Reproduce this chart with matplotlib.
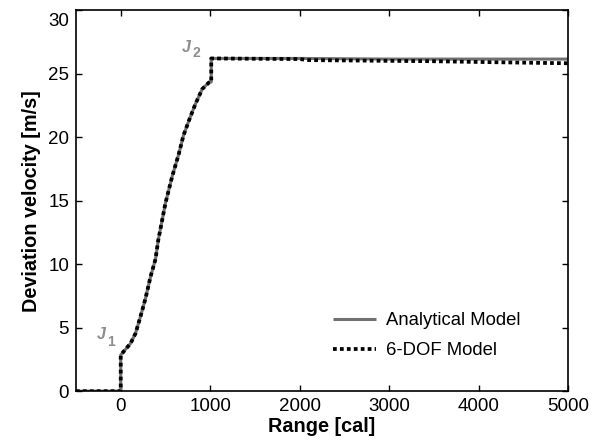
import matplotlib
matplotlib.use("Agg")
import matplotlib.pyplot as plt
import matplotlib.transforms as mtransforms

# ---- data ----
range_cal = [-500, 0, 0, 110, 165, 220, 277, 333, 389, 420, 500, 575, 650, 700,
             762, 837, 912, 985, 1012, 1012, 2000, 3000, 4000, 5000]
analytical = [0, 0, 2.85, 3.76, 4.54, 5.85, 7.3, 9.0, 10.4, 11.9, 14.8, 16.9, 18.7, 20.1,
              21.3, 22.65, 23.8, 24.3, 24.35, 26.2, 26.2, 26.15, 26.15, 26.15]
dof_range = [-500, 0, 0, 110, 165, 220, 277, 333, 389, 420, 500, 575, 650, 700,
             762, 837, 912, 985, 1012, 1012, 2000, 2100, 3500, 4200, 5000]
dof_velocity = [0, 0, 2.85, 3.76, 4.54, 5.85, 7.3, 9.0, 10.4, 11.9, 14.8, 16.9, 18.7, 20.1,
                21.3, 22.65, 23.8, 24.3, 24.35, 26.2, 26.15, 26.07, 25.98, 25.9, 25.82]
x_ticks = [0, 1000, 2000, 3000, 4000, 5000]
y_ticks = [0, 5, 10, 15, 20, 25, 30]

plt.rcParams['font.family'] = ['Liberation Sans', 'DejaVu Sans']

fig = plt.figure(figsize=(6.03, 4.43), dpi=100)
ax = fig.add_axes([0.126, 0.117, 0.816, 0.860])

ax.plot(range_cal, analytical, color='#707070', lw=2.2, solid_capstyle='butt',
        label='Analytical Model')
ax.plot(dof_range, dof_velocity, color='black', lw=2.7, linestyle=(0, (1.0, 0.85)),
        label='6-DOF Model')

ax.set_xlim(-500, 5000)
ax.set_ylim(0, 30)
ax.set_xticks(x_ticks)
ax.set_yticks(y_ticks)
ax.tick_params(direction='in', top=True, right=True, length=4.5, width=1,
               labelsize=13.5, pad=5)
for s in ax.spines.values():
    s.set_linewidth(1.2)

# top y tick label sits slightly lower in the reference
fig.canvas.draw()
ylabels = ax.get_yticklabels()
ylabels[-1].set_transform(ylabels[-1].get_transform() +
                          mtransforms.ScaledTranslation(0, -0.09, fig.dpi_scale_trans))

ax.set_xlabel('Range [cal]', fontsize=14.3, fontweight='bold', labelpad=1)
ax.set_ylabel('Deviation velocity [m/s]', fontsize=14.3, fontweight='bold', labelpad=5)

jcol = '#8c8c8c'
ax.text(-220, 4.5, 'J', fontsize=11.5, fontweight='bold', fontstyle='italic',
        color=jcol, ha='center', va='center')
ax.text(-108, 3.85, '1', fontsize=10, fontweight='bold', color=jcol,
        ha='center', va='center')
ax.text(732, 27.1, 'J', fontsize=11.5, fontweight='bold', fontstyle='italic',
        color=jcol, ha='center', va='center')
ax.text(844, 26.6, '2', fontsize=10, fontweight='bold', color=jcol,
        ha='center', va='center')

leg = ax.legend(loc='center left', bbox_to_anchor=(0.489, 0.1455), frameon=False,
                fontsize=13.3, handlelength=2.3, handletextpad=0.55, labelspacing=0.73)

fig.savefig('out.png', dpi=100)
